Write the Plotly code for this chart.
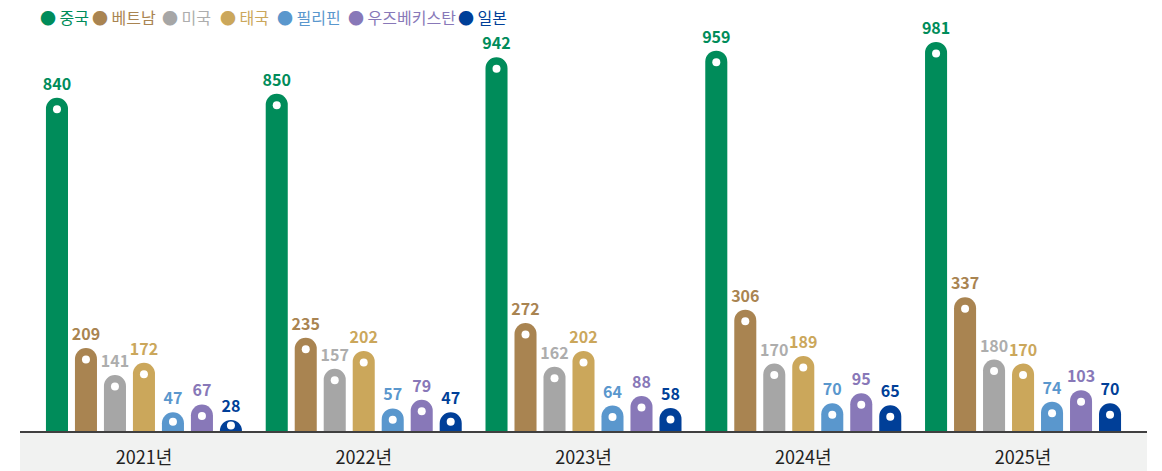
import plotly.graph_objects as go

years = ["2021년", "2022년", "2023년", "2024년", "2025년"]
countries = ["중국", "베트남", "미국", "태국", "필리핀", "우즈베키스탄", "일본"]

china = [840, 850, 942, 959, 981]
vietnam = [209, 235, 272, 306, 337]
usa = [141, 157, 162, 170, 180]
thailand = [172, 202, 202, 189, 170]
philippines = [47, 57, 64, 70, 74]
uzbekistan = [67, 79, 88, 95, 103]
japan = [28, 47, 58, 65, 70]

series = [china, vietnam, usa, thailand, philippines, uzbekistan, japan]
colors = ["#008C5A", "#A98451", "#A6A6A6", "#CBA75B", "#5A97CD", "#8878B8", "#003F98"]
label_colors = ["#008C5A", "#A98451", "#ADADAD", "#CBA75B", "#5A97CD", "#8878B8", "#003F98"]
# centre (px) of each legend bullet
legend_px = [43, 101, 171, 229, 286, 357, 467]

FONT = "Noto Sans CJK KR"
W, H = 1162, 471
Y_MAX = 1011
DOT_OFFSET = 29  # data units below bar top where the white dot sits
GAP = 0.0765

fig = go.Figure()

for i, (name, vals) in enumerate(zip(countries, series)):
    fig.add_trace(go.Bar(
        x=years, y=vals, name=name, offsetgroup=str(i),
        marker=dict(color=colors[i], line=dict(width=0)),
        text=[str(v) for v in vals], textposition="outside",
        textangle=0, constraintext="none", cliponaxis=False,
        outsidetextfont=dict(family=FONT, size=16, color=label_colors[i], weight="bold"),
        showlegend=False, hoverinfo="skip",
    ))

for i, (name, vals) in enumerate(zip(countries, series)):
    fig.add_trace(go.Scatter(
        x=years, y=[v - min(DOT_OFFSET, v / 2) for v in vals],
        mode="markers", offsetgroup=str(i),
        marker=dict(color="white", size=8, line=dict(width=0)),
        showlegend=False, hoverinfo="skip", cliponaxis=False,
    ))

legends = {}
for i, name in enumerate(countries):
    key = "legend" if i == 0 else f"legend{i + 1}"
    fig.add_trace(go.Scatter(
        x=[None], y=[None], mode="markers",
        name=(f"<span style='color:{colors[i]}'>●</span> "
              f"<span style='color:{label_colors[i]}'>{name}</span>"),
        marker=dict(color="rgba(0,0,0,0)", size=1, line=dict(width=0)),
        showlegend=True, legend=key,
    ))
    legends[key] = dict(
        orientation="h", xref="container", yref="container",
        x=(legend_px[i] - 49) / W, y=1 - 18 / H, xanchor="left", yanchor="middle",
        font=dict(family=FONT, size=16), itemwidth=30,
        bgcolor="rgba(0,0,0,0)",
    )

fig.update_layout(
    width=W, height=H,
    margin=dict(l=20, r=15, t=30, b=40, autoexpand=False),
    paper_bgcolor="white", plot_bgcolor="white",
    barmode="group", bargap=GAP, bargroupgap=0.24, barcornerradius="50%",
    scattermode="group", scattergap=GAP,
    font=dict(family=FONT, size=16, color="#222222"),
    xaxis=dict(
        type="category", range=[-0.564, 4.564],
        showline=True, linecolor="#404040", linewidth=1.5,
        showgrid=False, ticks="", ticklabelstandoff=10,
        tickfont=dict(family=FONT, size=18, color="#222222"),
        fixedrange=True,
    ),
    yaxis=dict(
        range=[0, Y_MAX], visible=False, showgrid=False, zeroline=False,
        fixedrange=True,
    ),
    shapes=[dict(
        type="rect", xref="paper", yref="paper",
        x0=0, x1=1, y0=-40 / 401, y1=0,
        fillcolor="#F1F2F1", line=dict(width=0), layer="below",
    )],
    **legends,
)

fig.write_html(
    "out.html",
    config={"displayModeBar": False},
    post_script="document.body.style.margin='0';document.body.style.overflow='hidden';",
)
